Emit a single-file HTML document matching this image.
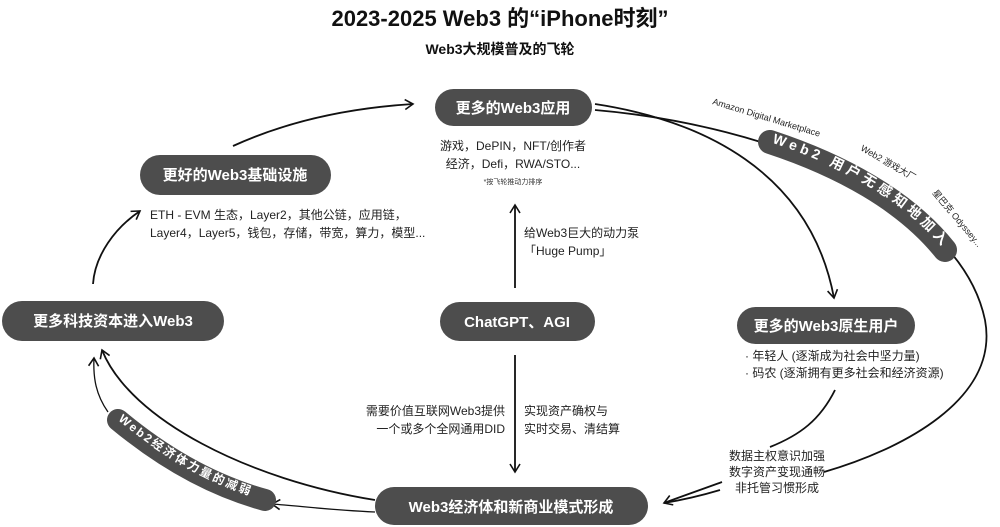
<!DOCTYPE html>
<html><head><meta charset="utf-8"><style>
body{margin:0;background:#fff;}
svg{display:block;font-family:"Liberation Sans","Noto Sans CJK SC",sans-serif;}
.p{fill:#4d4d4d;}
.pt{fill:#fff;font-weight:bold;font-size:15px;text-anchor:middle;}
.t{fill:#222;font-size:12px;}
.l{fill:none;stroke:#111;stroke-width:1.8;}
</style></head><body>
<svg width="1000" height="527" viewBox="0 0 1000 527">
<defs>
<marker id="a" markerWidth="12" markerHeight="12" refX="9" refY="6" orient="auto" markerUnits="userSpaceOnUse"><path d="M1,1 L9,6 L1,11" fill="none" stroke="#111" stroke-width="1.6"/></marker>
<path id="wp" d="M770,142 C 840,165 905,200 945,250"/>
<path id="wl" d="M118,420 C 160,455 210,485 265,500"/>
</defs>
<text x="500" y="26" text-anchor="middle" font-size="22" font-weight="bold" fill="#111">2023-2025 Web3 的“iPhone时刻”</text>
<text x="500" y="54" text-anchor="middle" font-size="14" font-weight="bold" fill="#111">Web3大规模普及的飞轮</text>

<path class="l" d="M233,146 C 290,120 350,108 413,104" marker-end="url(#a)"/>
<path class="l" d="M93,284 C 95,255 115,228 140,211" marker-end="url(#a)"/>
<path class="l" d="M515,288 L515,205" marker-end="url(#a)"/>
<path class="l" d="M515,355 L515,472" marker-end="url(#a)"/>
<path class="l" d="M595,104 C 700,120 810,170 834,298" marker-end="url(#a)"/>
<path class="l" d="M595,110 C 770,125 960,200 985,320 C 1000,400 900,450 824,472"/>
<path class="l" d="M835,390 C 820,420 800,435 770,447"/>
<path class="l" d="M722,482 C 700,490 680,497 664,503" marker-end="url(#a)"/>
<path class="l" d="M720,490 C 700,496 682,500 664,503"/>
<path class="l" d="M375,500 C 250,480 130,420 102,350" marker-end="url(#a)"/>
<path class="l" d="M375,512 C 330,510 300,506 272,504" marker-end="url(#a)" style="stroke-width:1.3"/>
<path class="l" d="M108,412 C 96,395 93,378 94,358" marker-end="url(#a)" style="stroke-width:1.3"/>

<path d="M770,142 C 840,165 905,200 945,250" fill="none" stroke="#4d4d4d" stroke-width="24" stroke-linecap="round"/>
<text font-size="14" font-weight="bold" fill="#fff" letter-spacing="4"><textPath href="#wp" startOffset="2">Web2 用户无感知地加入</textPath></text>
<path d="M118,420 C 160,455 210,485 265,500" fill="none" stroke="#4d4d4d" stroke-width="22" stroke-linecap="round"/>
<text font-size="12" font-weight="bold" fill="#fff" letter-spacing="2.2"><textPath href="#wl" startOffset="0">Web2经济体力量的减弱</textPath></text>
<text x="712" y="104" font-size="9" fill="#222" transform="rotate(17 712 104)">Amazon Digital Marketplace</text>
<text x="860" y="150" font-size="9" fill="#222" transform="rotate(30 860 150)">Web2 游戏大厂</text>
<text x="932" y="193" font-size="9" fill="#222" transform="rotate(50 932 193)">星巴克 Odyssey...</text>

<rect class="p" x="435" y="89" width="157" height="37" rx="18.5"/><text class="pt" x="513" y="113">更多的Web3应用</text>
<rect class="p" x="140" y="155" width="191" height="40" rx="20"/><text class="pt" x="235" y="180">更好的Web3基础设施</text>
<rect class="p" x="2" y="301" width="222" height="40" rx="20"/><text class="pt" x="113" y="326">更多科技资本进入Web3</text>
<rect class="p" x="440" y="302" width="155" height="39" rx="19.5"/><text class="pt" x="517" y="327">ChatGPT、AGI</text>
<rect class="p" x="737" y="307" width="178" height="37" rx="18.5"/><text class="pt" x="826" y="331">更多的Web3原生用户</text>
<rect class="p" x="375" y="487" width="273" height="38" rx="19"/><text class="pt" x="511" y="512">Web3经济体和新商业模式形成</text>

<text class="t" x="513" y="150" text-anchor="middle">游戏，DePIN，NFT/创作者</text>
<text class="t" x="513" y="168" text-anchor="middle">经济，Defi，RWA/STO...</text>
<text x="513" y="184" text-anchor="middle" font-size="7" fill="#333">*按飞轮推动力排序</text>
<text class="t" x="150" y="219">ETH - EVM 生态，Layer2，其他公链，应用链，</text>
<text class="t" x="150" y="237">Layer4，Layer5，钱包，存储，带宽，算力，模型...</text>
<text class="t" x="524" y="237">给Web3巨大的动力泵</text>
<text class="t" x="524" y="255">「Huge Pump」</text>
<text class="t" x="505" y="415" text-anchor="end">需要价值互联网Web3提供</text>
<text class="t" x="505" y="433" text-anchor="end">一个或多个全网通用DID</text>
<text class="t" x="524" y="415">实现资产确权与</text>
<text class="t" x="524" y="433">实时交易、清结算</text>
<text class="t" x="745" y="360">· 年轻人 (逐渐成为社会中坚力量)</text>
<text class="t" x="745" y="377">· 码农 (逐渐拥有更多社会和经济资源)</text>
<text class="t" x="777" y="460" text-anchor="middle">数据主权意识加强</text>
<text class="t" x="777" y="476" text-anchor="middle">数字资产变现通畅</text>
<text class="t" x="777" y="492" text-anchor="middle">非托管习惯形成</text>
</svg>
</body></html>
